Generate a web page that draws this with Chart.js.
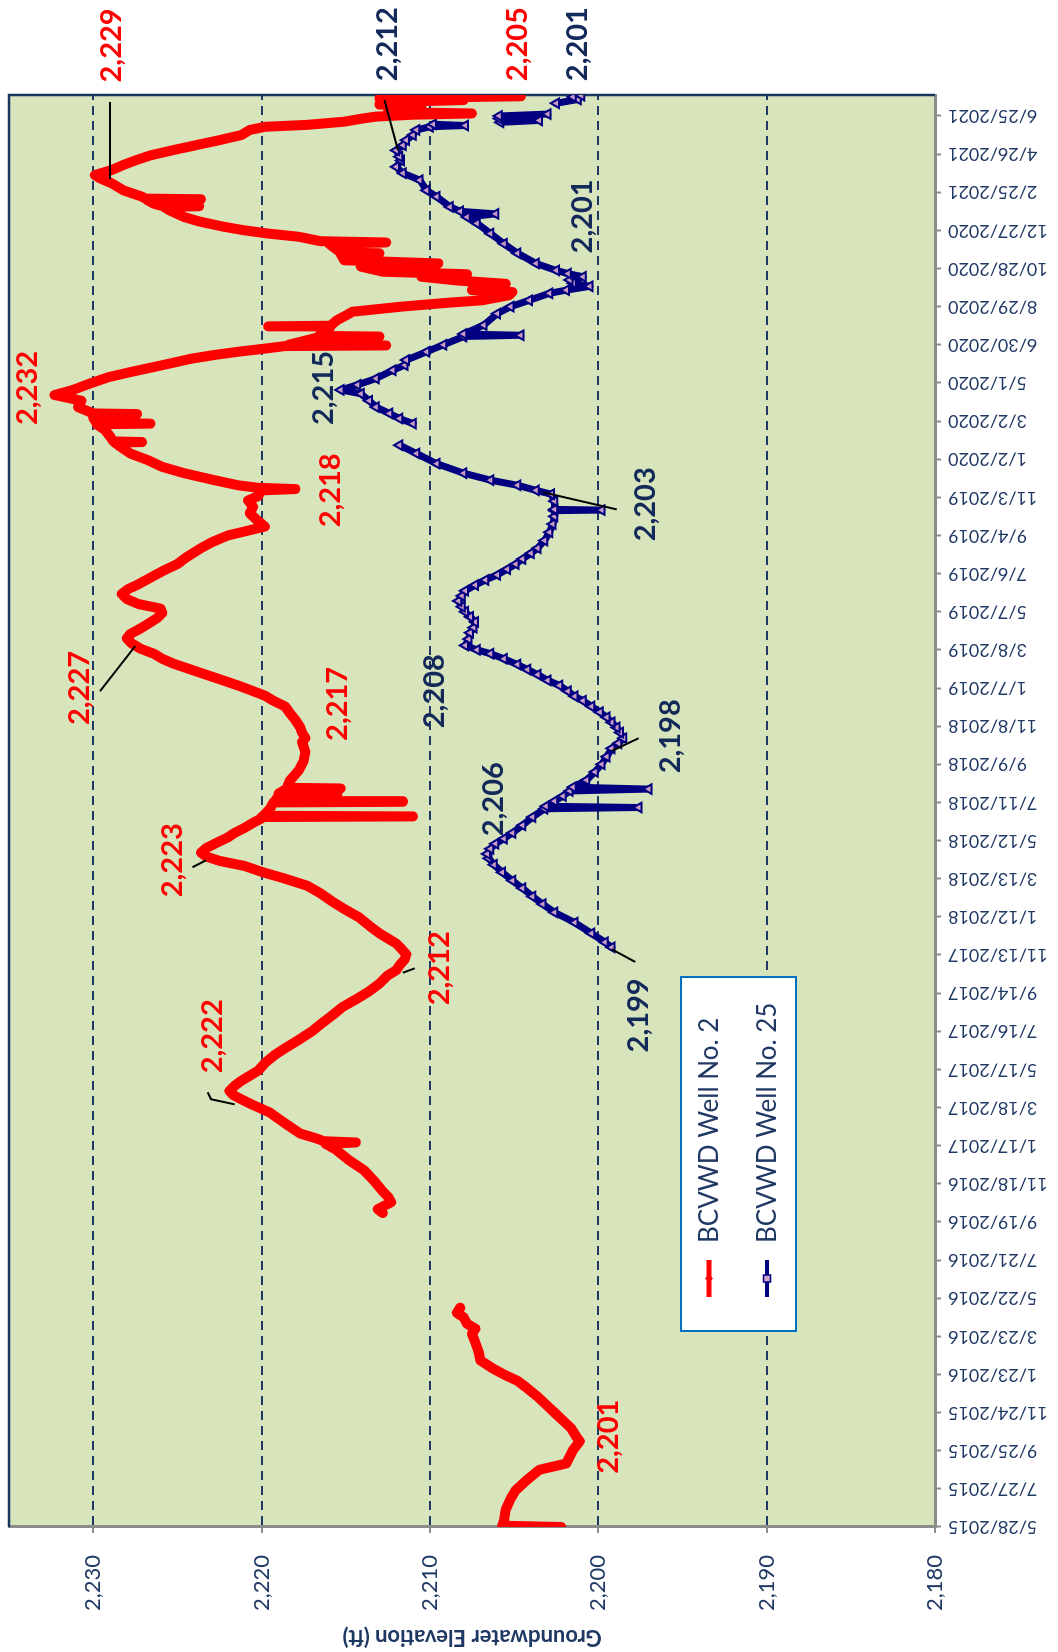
<!DOCTYPE html>
<html><head><meta charset="utf-8">
<script src="https://cdn.jsdelivr.net/npm/chart.js@4.4.0/dist/chart.umd.min.js"></script>
<style>
html,body{margin:0;padding:0;background:#fff;width:1058px;height:1652px;overflow:hidden;}
#wrap{position:absolute;left:0;top:0;width:1652px;height:1058px;transform-origin:0 0;transform:translateY(1652px) rotate(-90deg);}
canvas{display:block;}
</style></head><body>
<div id="wrap"><canvas id="c" width="1652" height="1058"></canvas></div>
<script>
// ---------- tick labels ----------
const dateTickLabels = ['5/28/2015','7/27/2015','9/25/2015','11/24/2015','1/23/2016','3/23/2016','5/22/2016','7/21/2016','9/19/2016','11/18/2016','1/17/2017','3/18/2017','5/17/2017','7/16/2017','9/14/2017','11/13/2017','1/12/2018','3/13/2018','5/12/2018','7/11/2018','9/9/2018','11/8/2018','1/7/2019','3/8/2019','5/7/2019','7/6/2019','9/4/2019','11/3/2019','1/2/2020','3/2/2020','5/1/2020','6/30/2020','8/29/2020','10/28/2020','12/27/2020','2/25/2021','4/26/2021','6/25/2021'];
const valueTicks = [2180,2190,2200,2210,2220,2230];
const valueTickLabels = ['2,180','2,190','2,200','2,210','2,220','2,230'];

// ---------- series (x = days since 5/28/2015, y = ft) ----------
const redDays = [0,2,10,27,45,58,75,90,100,121,135,142,155,165,180,195,205,220,230,240,250,262,275,290,304,312,320,330,337,345,
 420,
 494,500,511,520,528,544,561,577,594,603,605,607,611,619,635,652,665,673,680,686,694,702,718,730,743,755,768,780,793,805,818,830,843,855,868,876,884,893,901,910,918,926,934,946,959,971,984,997,1009,1020,1030,1040,1048,1055,1061,1068,1076,1085,1092,1100,1108,1115,
 1117,1118,1119,1130,1140,1141,1142,1150,1153,1154,1160,1162,1163,1175,1190,1205,1220,1235,1241,1250,1258,1270,1280,1291,1300,1308,1316,1324,1333,1341,1350,1358,1366,1374,1382,1390,1398,1405,1412,1420,1430,1438,1445,1452,1460,1468,1476,1482,1495,1505,1515,1525,1540,1550,1560,
 1574,1585,1595,1605,1615,1622,1631,1633,1635,1639,1647,1658,1668,1679,1689,1700,1706,1707,1708,1716,1726,1735,1736,1737,1745,1751,1752,1762,1772,1781,1789,1799,1809,1817,1825,1832,1838,1844,1849,1854,1858,1859,1860,1866,1872,1873,1874,1880,1888,1889,1890,1899,1906,1912,1920,1926,1930,1938,1943,1946,1951,1956,1961,1967,1971,1975,1983,1988,1993,2003,2004,2005,2009,2019,2021,2023,2030,2035,2040,2046,2054,2061,2072,2077,2078,2079,2082,2088,2089,2090,2093,2103,2114,2122,2127,2135,2143,2150,2158,2166,2174,2182,2190,2198,2203,2206,2211,2216,2219,2222,2224,2226,2232,2236,2238,2242,2245,2248,2251];
const redVals = [2202.2,2205.7,2205.6,2205.5,2205.2,2204.9,2204.2,2203.5,2201.9,2201.5,2201.1,2201.3,2201.6,2202.0,2202.6,2203.2,2203.6,2204.3,2204.8,2205.6,2206.3,2207.0,2207.1,2207.3,2207.5,2207.3,2207.8,2208.0,2208.4,2208.2,
 null,
 2212.8,2213.1,2212.3,2212.5,2212.8,2213.3,2213.9,2214.8,2215.6,2216.2,2214.4,2216.3,2216.7,2217.7,2218.6,2219.5,2220.6,2221.2,2221.7,2221.9,2221.6,2221.2,2220.2,2219.8,2219.2,2218.5,2217.7,2217.0,2216.4,2215.8,2215.2,2214.4,2213.6,2213.0,2212.5,2212.0,2211.8,2211.5,2211.4,2211.7,2212.0,2212.5,2213.0,2213.6,2214.2,2215.0,2215.8,2216.5,2217.3,2218.6,2219.9,2221.0,2222.5,2223.3,2223.6,2223.3,2222.7,2222.0,2221.6,2221.0,2220.5,2220.0,
 2220.0,2211.0,2219.9,2219.5,2219.3,2211.6,2219.2,2219.0,2215.5,2219.0,2218.6,2215.3,2218.5,2218.3,2217.8,2217.5,2217.4,2217.6,2217.4,2217.6,2217.7,2218.0,2218.3,2218.6,2219.3,2219.8,2220.6,2221.4,2222.4,2223.3,2224.3,2225.2,2225.9,2226.4,2227.2,2227.7,2228.0,2227.8,2227.3,2226.8,2226.2,2225.9,2226.0,2227.3,2228.0,2228.3,2227.9,2227.4,2226.5,2225.8,2225.0,2224.5,2223.6,2222.9,2222.0,
 2219.8,2220.3,2220.7,2220.5,2220.8,2220.2,2220.0,2218.0,2220.2,2221.4,2222.8,2224.6,2225.9,2226.8,2227.8,2228.4,2228.7,2227.1,2228.8,2229.0,2229.3,2229.8,2226.6,2229.8,2230.0,2227.4,2230.0,2230.9,2230.7,2232.3,2231.2,2230.2,2229.1,2227.8,2226.4,2225.2,2224.2,2222.8,2221.4,2219.8,2218.6,2212.6,2218.4,2217.5,2216.6,2213.0,2216.6,2216.2,2215.9,2219.6,2215.9,2215.5,2215.0,2214.6,2211.7,2209.0,2206.9,2205.3,2205.1,2207.5,2206.5,2205.5,2208.3,2210.5,2207.8,2212.8,2214.1,2209.5,2215.1,2215.3,2213.0,2215.3,2215.5,2216.0,2212.6,2216.5,2217.8,2219.6,2221.0,2222.3,2223.7,2224.6,2225.5,2225.8,2223.7,2226.0,2226.4,2226.8,2223.6,2226.9,2227.1,2228.2,2228.9,2229.6,2229.9,2228.9,2228.2,2227.5,2226.6,2225.3,2223.9,2222.5,2221.2,2220.7,2219.8,2217.3,2215.1,2214.0,2213.2,2211.0,2207.5,2212.5,2212.1,2210.5,2213.0,2212.6,2208.0,2213.0,2204.6];

const blueDays = [912,920,934,951,967,980,992,1005,1017,1030,1042,1052,1059,1067,1075,1083,1092,1104,1117,1130,1132,1134,1142,1150,1158,1161,1164,1175,1188,1200,1212,1225,1233,1241,1250,1258,1266,1274,1282,1291,1300,1307,1315,1324,1332,1341,1349,1357,1366,1374,1380,1387,1397,1407,1415,1424,1432,1440,1448,1457,1465,1473,1482,1490,1498,1507,1515,1523,1532,1540,1552,1565,1578,1590,1599,1600,1601,1614,1625,1631,1639,1647,1658,1673,1689,1702,
 1718,
 1736,1744,1752,1762,1772,1783,1789,1797,1807,1820,1828,1836,1849,1860,1873,1875,1877,1891,1909,1920,1930,1941,1946,1952,1957,1962,1967,1972,1977,1988,2004,2019,2035,2051,2061,2066,2070,2077,2093,2103,2119,2130,2140,2150,2156,2166,2174,2182,2190,2198,2203,2205,2207,
 2209,
 2210,2213,2216,2220,2223,
 2230,
 2240,2246,2250,2252];
const blueVals = [2199.2,2199.6,2200.4,2201.4,2202.6,2203.3,2203.9,2204.5,2205.1,2205.7,2206.2,2206.5,2206.6,2206.4,2206.1,2205.6,2205.1,2204.5,2203.9,2203.2,2197.6,2203.1,2202.6,2202.1,2201.7,2197.0,2201.5,2200.7,2200.2,2199.8,2199.5,2199.2,2198.8,2198.5,2198.7,2198.9,2199.2,2199.5,2199.9,2200.4,2200.9,2201.4,2201.8,2202.3,2203.0,2203.6,2204.2,2204.8,2205.6,2206.4,2207.2,2207.9,2207.7,2207.6,2207.4,2207.3,2207.6,2207.9,2208.1,2208.3,2208.1,2207.9,2207.3,2206.7,2206.0,2205.4,2204.9,2204.5,2204.0,2203.6,2203.2,2202.9,2202.7,2202.6,2202.6,2199.8,2202.6,2202.6,2202.8,2203.7,2204.8,2206.4,2208.0,2209.6,2210.8,2211.8,
 null,
 2211.0,2211.8,2212.4,2213.2,2213.6,2214.1,2215.3,2214.3,2213.2,2212.2,2211.5,2211.4,2210.2,2209.2,2208.0,2204.6,2208.0,2206.8,2206.0,2205.2,2204.1,2202.9,2201.9,2200.5,2201.5,2201.7,2200.9,2201.8,2202.5,2203.7,2204.8,2205.6,2206.4,2207.2,2207.8,2206.1,2208.2,2208.8,2209.6,2210.2,2210.6,2211.6,2212.0,2211.7,2211.8,2212.0,2211.6,2211.4,2211.0,2210.8,2210.0,2207.9,2209.8,
 null,
 2205.8,2203.5,2205.9,2205.9,2203.0,
 null,
 2202.5,2201.2,2201.5,2201.0];

// ---------- value call-outs ----------
const annoText  = ['2,229','2,205','2,212','2,201','2,232','2,215','2,218','2,201','2,203','2,227','2,217','2,208','2,206','2,198','2,223','2,212','2,222','2,201','2,199'];
const annoDay   = [2331,2333,2333,2333,1792,1792,1631,2062,1609,1320,1295,1315,1145,1244,1049,879,772,142,805];
const annoVal   = [2228.9,2204.8,2212.5,2201.2,2233.9,2216.3,2215.9,2200.9,2197.2,2230.8,2215.5,2209.7,2206.2,2195.7,2225.3,2209.4,2222.9,2199.4,2197.6];
const annoWell  = ['r','r','n','n','r','n','r','n','n','r','r','n','n','n','r','r','r','r','n'];
const leaderLines = [
  [[2242,2229.0],[2121,2229.0]],
  [[2245,2212.7],[2166,2211.9]],
  [[1628,2203.3],[1601,2198.9]],
  [[1315,2229.6],[1386,2227.5]],
  [[1241,2197.6],[1221,2199.2]],
  [[909,2199.2],[889,2197.8]],
  [[684,2223.2],[673,2223.0],[665,2221.6]],
  [[1038,2224.1],[1049,2223.3]],
  [[879,2210.9],[872,2211.6]]
];
const seriesNames = ['BCVWD Well No. 2','BCVWD Well No. 25'];

// ---------- styling ----------
const RED = '#FF0000', NAVY = '#000080', TXT = '#1F3864', GRID = '#1F3864', AXIS = '#8C8C8C';
const FONT = 'Lato, "Noto Sans", sans-serif';
Chart.defaults.font.family = FONT;

const toPts = (d, v) => d.map((x, i) => ({x: x, y: v[i]}));
const zeroPad = s => { s.paddingTop = 0; s.paddingBottom = 0; s.paddingLeft = 0; s.paddingRight = 0; };

const frame = {
  id: 'frame',
  beforeDraw(chart) {
    const {ctx, chartArea: a} = chart;
    ctx.save();
    ctx.fillStyle = '#D7E4BC';
    ctx.fillRect(a.left, a.top, a.right - a.left, a.bottom - a.top);
    ctx.restore();
  },
  beforeDatasetsDraw(chart) {
    const {ctx, chartArea: a} = chart;
    ctx.save();
    ctx.strokeStyle = '#17375E'; ctx.lineWidth = 2.5;
    ctx.beginPath();
    ctx.moveTo(a.left, a.top); ctx.lineTo(a.right, a.top); ctx.lineTo(a.right, a.bottom);
    ctx.stroke();
    ctx.restore();
  }
};

const callouts = {
  id: 'callouts',
  afterDatasetsDraw(chart) {
    const {ctx, scales: {x, y}} = chart;
    ctx.save();
    ctx.strokeStyle = '#000'; ctx.lineWidth = 2;
    leaderLines.forEach(pl => {
      ctx.beginPath();
      pl.forEach((p, i) => {
        const px = x.getPixelForValue(p[0]), py = y.getPixelForValue(p[1]);
        if (i) ctx.lineTo(px, py); else ctx.moveTo(px, py);
      });
      ctx.stroke();
    });
    ctx.font = 'bold 29px ' + FONT;
    ctx.textAlign = 'center'; ctx.textBaseline = 'middle';
    annoText.forEach((t, i) => {
      ctx.fillStyle = annoWell[i] === 'r' ? RED : '#13295A';
      ctx.fillText(t, x.getPixelForValue(annoDay[i]), y.getPixelForValue(annoVal[i]));
    });
    ctx.restore();
  }
};

const legendBox = {
  id: 'legendBox',
  afterDraw(chart) {
    const {ctx} = chart;
    const L = 321, T = 681, R = 675, B = 796;
    ctx.save();
    ctx.fillStyle = '#FFFFFF'; ctx.fillRect(L, T, R - L, B - T);
    ctx.strokeStyle = '#0070C0'; ctx.lineWidth = 2; ctx.strokeRect(L, T, R - L, B - T);
    const rows = [709, 767];
    const cols = [RED, NAVY];
    rows.forEach((ry, i) => {
      ctx.strokeStyle = cols[i]; ctx.lineWidth = i ? 4 : 5;
      ctx.beginPath(); ctx.moveTo(355, ry); ctx.lineTo(392, ry); ctx.stroke();
      if (i === 0) {
        ctx.fillStyle = RED;
        ctx.beginPath(); ctx.moveTo(373.5, ry - 4); ctx.lineTo(377.5, ry); ctx.lineTo(373.5, ry + 4); ctx.lineTo(369.5, ry); ctx.closePath(); ctx.fill();
      } else {
        ctx.fillStyle = '#D4A5C9'; ctx.strokeStyle = NAVY; ctx.lineWidth = 1.5;
        ctx.fillRect(370, ry - 3.5, 7, 7); ctx.strokeRect(370, ry - 3.5, 7, 7);
      }
      ctx.fillStyle = TXT; ctx.font = '26px ' + FONT;
      ctx.textAlign = 'left'; ctx.textBaseline = 'middle';
      ctx.fillText(seriesNames[i], 409, ry + 1);
    });
    ctx.restore();
  }
};

new Chart(document.getElementById('c'), {
  type: 'line',
  data: {
    datasets: [
      {label: seriesNames[0], data: toPts(redDays, redVals), borderColor: RED, backgroundColor: RED,
       borderWidth: 10, borderJoinStyle: 'round', borderCapStyle: 'round',
       pointStyle: 'rectRot', pointRadius: 4.5, pointBackgroundColor: RED, pointBorderWidth: 0,
       tension: 0, spanGaps: false},
      {label: seriesNames[1], data: toPts(blueDays, blueVals), borderColor: NAVY, backgroundColor: NAVY,
       borderWidth: 7, borderJoinStyle: 'round', borderCapStyle: 'round',
       pointStyle: 'triangle', pointRadius: 5.5, pointBackgroundColor: '#C99AC4',
       pointBorderColor: NAVY, pointBorderWidth: 2, tension: 0, spanGaps: false}
    ]
  },
  options: {
    responsive: false, animation: false, devicePixelRatio: 1,
    layout: {padding: {top: 9, right: 95, bottom: 0, left: 0}},
    plugins: {legend: {display: false}, tooltip: {enabled: false}},
    scales: {
      x: {
        type: 'linear', position: 'bottom', min: 0, max: 2253,
        afterFit: s => { s.height = 123; zeroPad(s); },
        ticks: {stepSize: 60, includeBounds: false, autoSkip: false, maxRotation: 90, minRotation: 90,
                padding: 7, color: TXT, font: {size: 18},
                callback: v => dateTickLabels[Math.round(v / 60)]},
        grid: {drawOnChartArea: false, tickLength: 6, tickColor: AXIS, tickWidth: 2},
        border: {color: AXIS, width: 3}
      },
      y: {
        min: 2180, max: 2235,
        afterFit: s => { s.width = 125; zeroPad(s); },
        ticks: {stepSize: 10, includeBounds: false, padding: 22, color: TXT, font: {size: 22},
                callback: v => valueTickLabels[valueTicks.indexOf(v)]},
        grid: {color: c => (c.tick && c.tick.value === 2180) ? 'rgba(0,0,0,0)' : GRID, lineWidth: 2,
               tickLength: 6, tickColor: AXIS, tickWidth: 2},
        border: {color: AXIS, width: 3, dash: [9, 6]},
        title: {display: true, text: 'Groundwater Elevation (ft)', color: TXT,
                font: {size: 22, weight: 'bold'}, padding: {top: 2, bottom: 0}}
      }
    }
  },
  plugins: [frame, callouts, legendBox]
});
</script>
</body></html>
